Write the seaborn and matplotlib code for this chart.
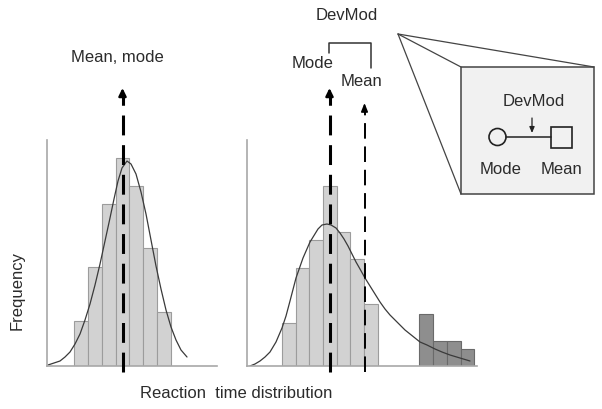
import seaborn as sns
import matplotlib.pyplot as plt
from matplotlib.patches import Circle, Rectangle

sns.set_style('white')
plt.rcParams['font.family'] = ['Liberation Sans', 'DejaVu Sans']

# Data (x in pixels, heights = frequency in arbitrary units)
left_edges = [74, 88, 102, 116, 129, 143, 157, 171]
left_counts = [45, 99, 162, 208, 180, 118, 54]
left_curve_x = [48, 54, 60, 65, 70, 75, 80, 85, 90, 95, 100, 105, 110, 114, 118, 122,
                127, 131, 136, 141, 146, 151, 156, 161, 166, 171, 176, 181, 187]
left_curve_y = [1, 3, 5, 9, 14, 22, 32, 46, 62, 81, 102, 125, 148, 167, 185, 198,
                205, 202, 192, 174, 152, 126, 100, 77, 56, 39, 26, 16, 9]

right_edges = [282, 296, 309, 323, 337, 350, 364, 378]
right_counts = [43, 98, 126, 180, 134, 107, 62]
tail_edges = [419, 433, 447, 461, 474]
tail_counts = [52, 25, 25, 17]
right_curve_x = [250, 255, 260, 265, 270, 276, 282, 286, 290, 296, 303, 310, 318, 322,
                 327, 331, 336, 340, 344, 348, 352, 356, 360, 365, 370, 375, 380, 385,
                 390, 395, 400, 405, 410, 415, 420, 427, 435, 442, 450, 460, 470]
right_curve_y = [0, 2, 5, 9, 14, 24, 38, 50, 65, 88, 108, 124, 137, 141,
                 142, 141, 138, 133, 127, 120, 112, 104, 97, 88, 80, 72, 64, 57,
                 51, 46, 41, 36, 32, 28, 24, 21, 17, 14, 11, 8, 5]

W, H = 602, 409
fig = plt.figure(figsize=(W / 100, H / 100), dpi=100)

light = '#d2d2d2'
light_edge = '#9c9c9c'
dark = '#8e8e8e'
dark_edge = '#6a6a6a'
curve_col = '#3a3a3a'
axis_col = '#a8a8a8'
txt = '#2b2b2b'


def panel(x0, x1):
    ax = fig.add_axes([x0 / W, (H - 366) / H, (x1 - x0) / W, 226 / H])
    ax.set_xlim(x0, x1)
    ax.set_ylim(0, 226)
    ax.patch.set_alpha(0)
    for s in ['top', 'right']:
        ax.spines[s].set_visible(False)
    for s in ['left', 'bottom']:
        ax.spines[s].set_color(axis_col)
        ax.spines[s].set_linewidth(1.2)
    return ax


def bars(ax, edges, counts, fc, ec):
    centers = [(a + b) / 2 for a, b in zip(edges[:-1], edges[1:])]
    sns.histplot(x=centers, weights=counts, bins=edges, ax=ax, color=fc,
                 edgecolor=ec, alpha=1, linewidth=0.8)


# left panel
ax1 = panel(47, 217)
bars(ax1, left_edges, left_counts, light, light_edge)
sns.lineplot(x=left_curve_x, y=left_curve_y, ax=ax1, color=curve_col, linewidth=0.9)

# right panel
ax2 = panel(247, 477)
bars(ax2, right_edges, right_counts, light, light_edge)
bars(ax2, tail_edges, tail_counts, dark, dark_edge)
sns.lineplot(x=right_curve_x, y=right_curve_y, ax=ax2, color=curve_col, linewidth=0.9)

for ax in (ax1, ax2):
    ax.set_xticks([])
    ax.set_yticks([])
    ax.set_xlabel('')
    ax.set_ylabel('')

# overlay for annotations, in pixel coordinates
ov = fig.add_axes([0, 0, 1, 1])
ov.set_xlim(0, W)
ov.set_ylim(H, 0)
ov.axis('off')
ov.patch.set_alpha(0)


def dashed_arrow(x, top, lw, dash, head):
    ov.plot([x, x], [372, top + 6], color='black', lw=lw, linestyle=(0, dash),
            solid_capstyle='butt', dash_capstyle='butt')
    ov.annotate('', xy=(x, top), xytext=(x, top + 9),
                arrowprops=dict(arrowstyle='-|>,head_length=%s,head_width=%s' % head,
                                color='black', lw=lw * 0.8, shrinkA=0, shrinkB=0))


dashed_arrow(122.5, 88, 2.2, (6.5, 3.2), (0.45, 0.22))
dashed_arrow(329.5, 88, 2.2, (6.5, 3.2), (0.45, 0.22))
dashed_arrow(364.5, 103, 1.4, (8, 4), (0.5, 0.2))

fs = 12
ov.text(117, 57, 'Mean, mode', ha='center', va='center', fontsize=fs, color=txt)
ov.text(347, 15, 'DevMod', ha='center', va='center', fontsize=fs, color=txt)
ov.text(313, 63, 'Mode', ha='center', va='center', fontsize=fs, color=txt)
ov.text(362, 82, 'Mean', ha='center', va='center', fontsize=fs, color=txt)
ov.plot([329, 329, 371, 371], [53, 43, 43, 68], color='#333333', lw=1.1)

ov.text(17, 291, 'Frequency', ha='center', va='center', rotation=90, fontsize=fs,
        color=txt)
ov.text(236, 393, 'Reaction  time distribution', ha='center', va='center',
        fontsize=fs, color=txt)

# zoomed inset
apex = (398, 34)
for cx, cy in [(461, 67), (594, 67), (461, 194)]:
    ov.plot([apex[0], cx], [apex[1], cy], color='#444444', lw=0.9)
ov.add_patch(Rectangle((461, 67), 133, 127, facecolor='#f1f1f1', edgecolor='#444444',
                       lw=1.1))
ov.plot([506, 551], [137, 137], color='#222222', lw=1.1)
ov.add_patch(Circle((497.5, 137), 8.5, facecolor='#f1f1f1', edgecolor='#222222', lw=1.2))
ov.add_patch(Rectangle((551, 127), 20.5, 20.5, facecolor='#f1f1f1', edgecolor='#222222',
                       lw=1.2))
ov.annotate('', xy=(532, 133), xytext=(532, 118),
            arrowprops=dict(arrowstyle='-|>,head_length=0.35,head_width=0.15',
                            color='#222222', lw=0.9, shrinkA=0, shrinkB=0))
ov.text(534, 101, 'DevMod', ha='center', va='center', fontsize=fs, color=txt)
ov.text(501, 169, 'Mode', ha='center', va='center', fontsize=fs, color=txt)
ov.text(562, 169, 'Mean', ha='center', va='center', fontsize=fs, color=txt)

fig.savefig('out.png', dpi=100, facecolor='white')
